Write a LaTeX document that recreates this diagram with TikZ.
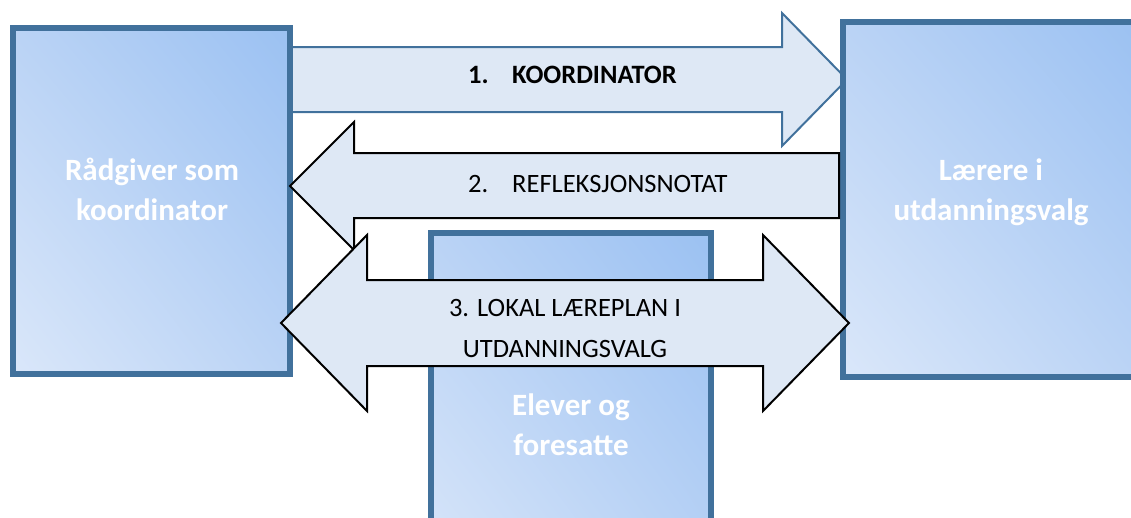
\documentclass[tikz,border=0pt]{standalone}
\usepackage{fontspec}
\setmainfont{Carlito}
\usetikzlibrary{shadings}
\definecolor{boxline}{HTML}{41719C}
\definecolor{boxdark}{HTML}{9BC1F2}
\definecolor{boxmid}{HTML}{BAD3F5}
\definecolor{boxlight}{HTML}{DAE7FA}
\definecolor{arrowfill}{HTML}{DEE8F5}
\begin{document}
\begin{tikzpicture}[x=1pt,y=-1pt,
  box/.style={draw=boxline, line width=6pt, inner sep=0pt,
    upper right=boxdark, lower left=boxlight, upper left=boxmid, lower right=boxmid},
  boxtext/.style={text=white, font=\fontsize{31}{40}\selectfont\bfseries, align=center},
  arrowtext/.style={font=\fontsize{26.5}{41}\selectfont, anchor=base west, inner sep=0pt},
  arrowline/.style={draw=black, fill=arrowfill, line width=2pt, line join=miter}]
\useasboundingbox (0,0) rectangle (1131,517);
\clip (0,0) rectangle (1131,517);
%points of arrow 1
\coordinate (A1) at (290,47);
\coordinate (A2) at (782,47);
\coordinate (A3) at (782,13);
\coordinate (A4) at (847,79.5);
\coordinate (A5) at (782,146);
\coordinate (A6) at (782,112);
\coordinate (A7) at (290,112);
\draw [draw=boxline, fill=arrowfill, line width=2pt] (A1) -- (A2) -- (A3) -- (A4) -- (A5) -- (A6) -- (A7) -- cycle;
%boxes
\node [box, minimum width=277pt, minimum height=346pt] (rad) at (151.5,201) {};
\node [box, minimum width=298pt, minimum height=355pt] (lar) at (992,199) {};
\node [boxtext] (radtext) at (152,189) {Rådgiver som\\koordinator};
\node [boxtext] (lartext) at (991,192) {Lærere i\\utdanningsvalg};
%points of arrow 2
\coordinate (B1) at (290,186);
\coordinate (B2) at (354,122);
\coordinate (B3) at (354,153);
\coordinate (B4) at (839,153);
\coordinate (B5) at (839,218);
\coordinate (B6) at (354,218);
\coordinate (B7) at (354,250);
\draw [arrowline] (B1) -- (B2) -- (B3) -- (B4) -- (B5) -- (B6) -- (B7) -- cycle;
%middle box
\node [box, minimum width=280pt, minimum height=367pt] (elev) at (571,416) {};
\node [boxtext] (elevtext) at (571,425) {Elever og\\foresatte};
%points of arrow 3
\coordinate (C1) at (281,323);
\coordinate (C2) at (367,235);
\coordinate (C3) at (367,280);
\coordinate (C4) at (763,280);
\coordinate (C5) at (763,235);
\coordinate (C6) at (849,323);
\coordinate (C7) at (763,411);
\coordinate (C8) at (763,366);
\coordinate (C9) at (367,366);
\coordinate (C10) at (367,411);
\draw [arrowline] (C1) -- (C2) -- (C3) -- (C4) -- (C5) -- (C6) -- (C7) -- (C8) -- (C9) -- (C10) -- cycle;
%arrow labels
\node [arrowtext] (koord) at (468,83) {\bfseries\makebox[44pt][l]{1.}KOORDINATOR};
\node [arrowtext] (refl) at (468,192) {\makebox[44pt][l]{2.}REFLEKSJONSNOTAT};
\node [arrowtext, anchor=center, align=center] (lokal) at (565,328) {3. LOKAL LÆREPLAN I\\UTDANNINGSVALG};
\end{tikzpicture}
\end{document}
